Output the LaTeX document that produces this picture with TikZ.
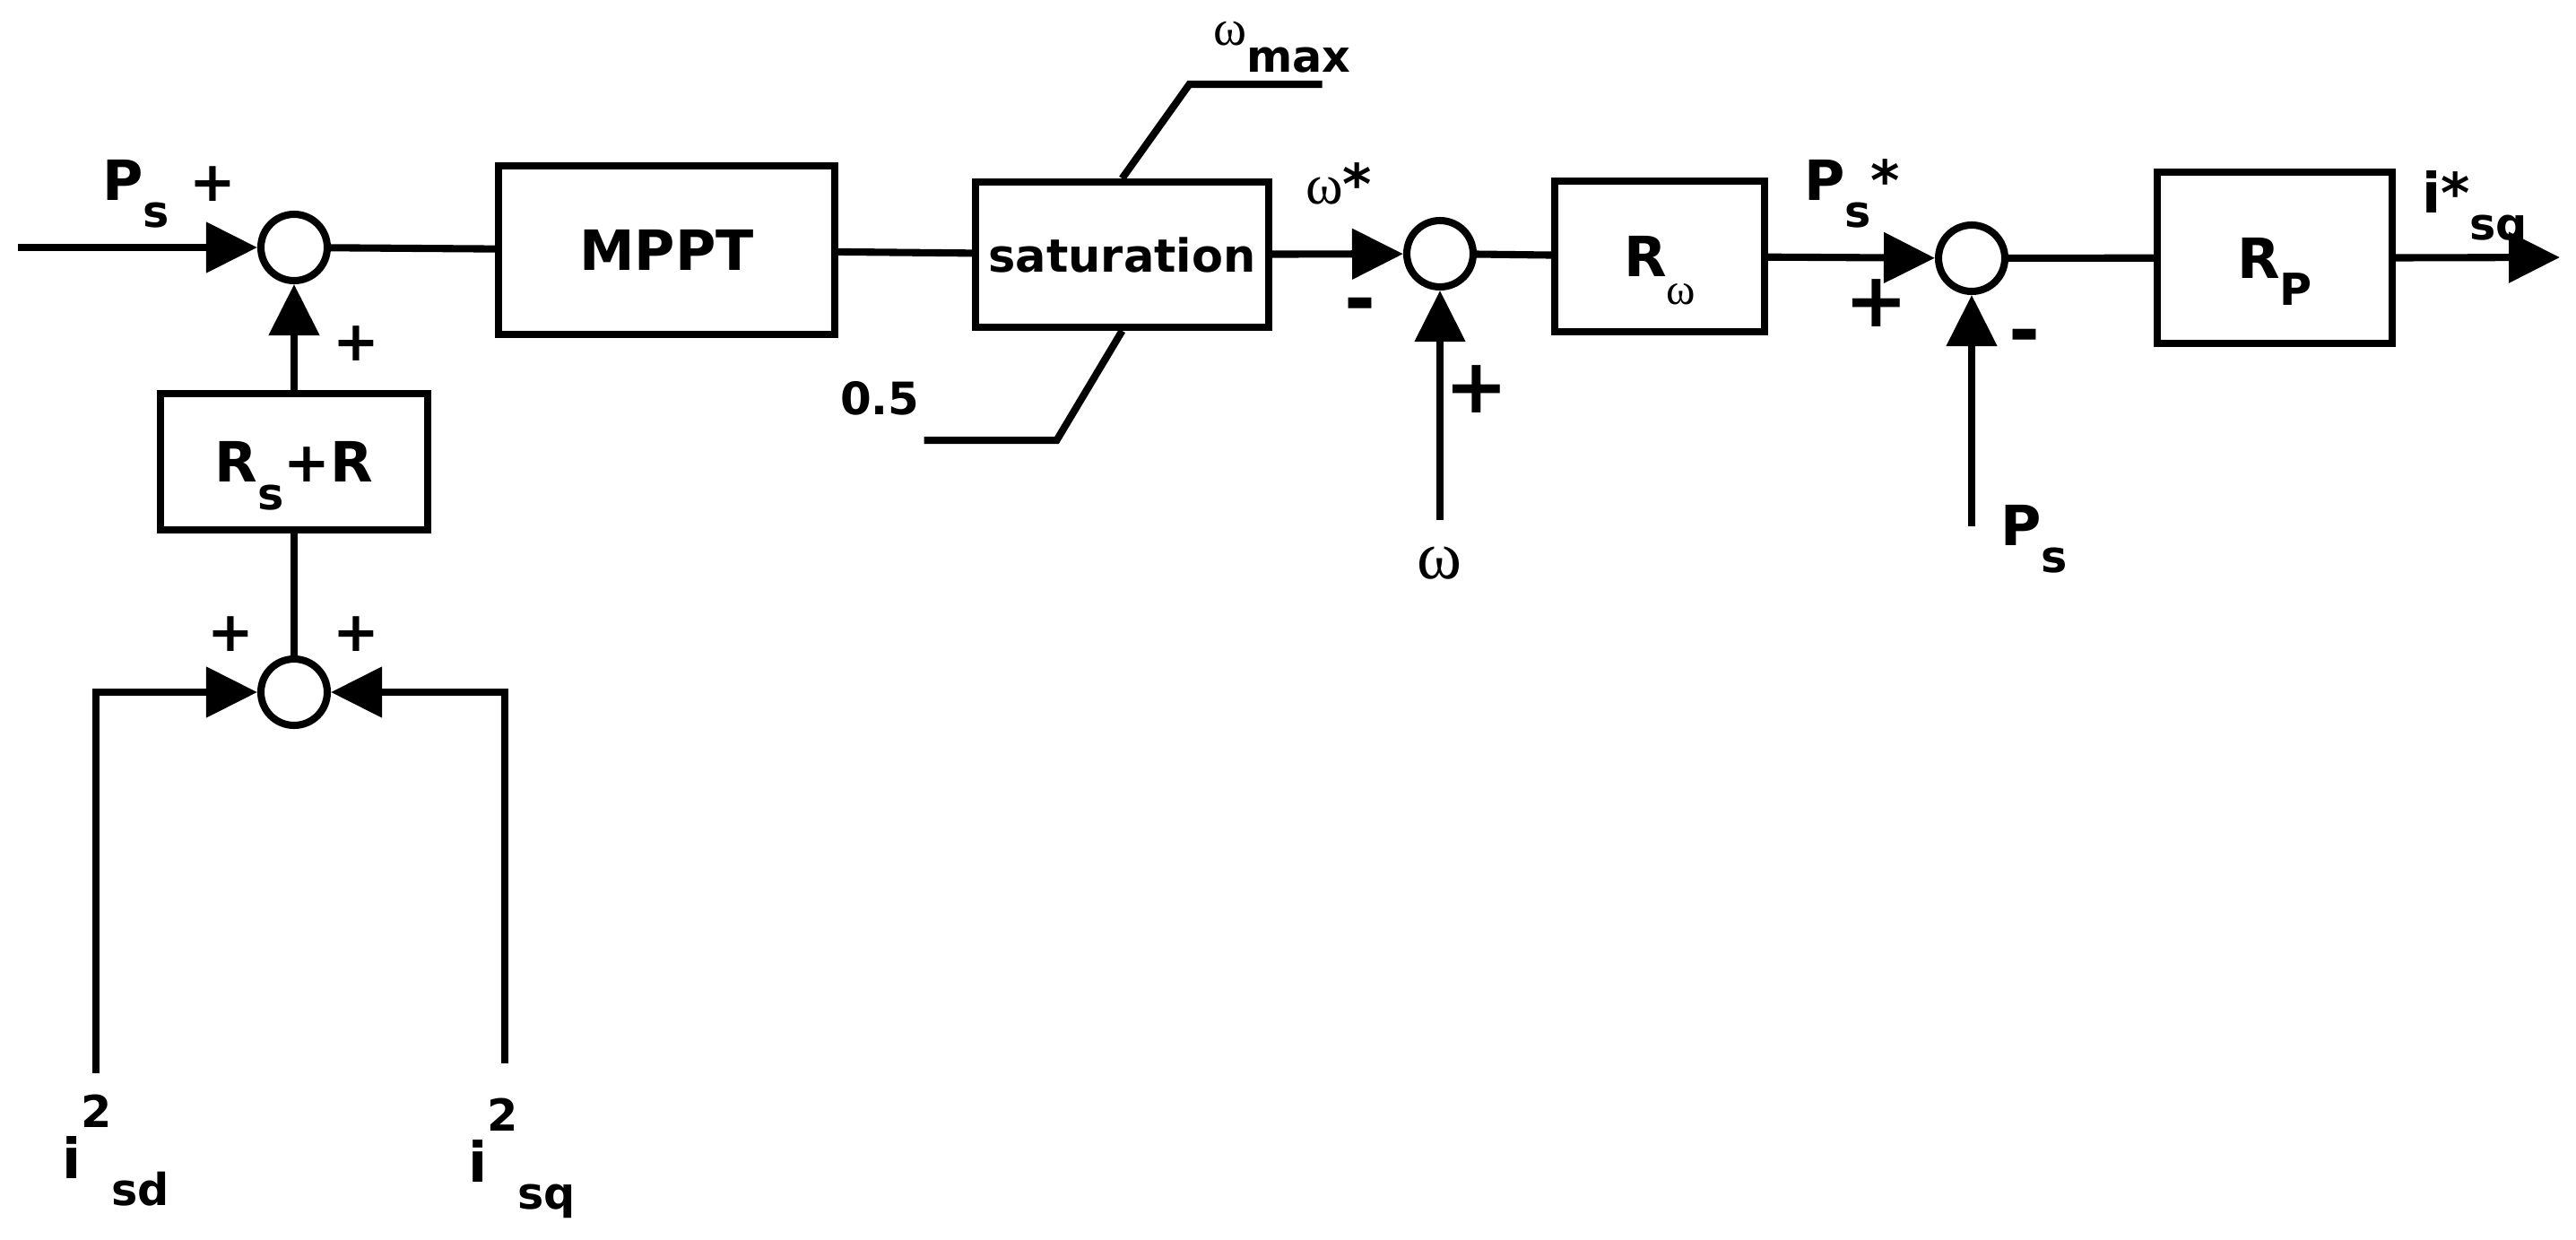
\documentclass[tikz,border=0pt]{standalone}
\usepackage{fontspec}
\setmainfont{DejaVu Sans}
\newfontfamily\omegafont{Liberation Serif}
\usetikzlibrary{arrows.meta}
\newcommand{\subtxt}[1]{\smash{\raisebox{-8.8pt}{\fontsize{14}{14}\selectfont #1}}}
\newcommand{\suptxt}[1]{\smash{\raisebox{16.2pt}{\fontsize{14}{14}\selectfont #1}}}
\newcommand{\om}{{\omegafont\mdseries ω}}

\begin{document}
\begin{tikzpicture}[line width=2.3pt,
  every node/.style={font=\bfseries\fontsize{17.6}{20}\selectfont},
  blk/.style={draw,rectangle,inner sep=0pt},
  sumnode/.style={draw,circle,inner sep=0pt,minimum size=0.74cm},
  lbl/.style={inner sep=0pt,anchor=base west},
  sgn/.style={inner sep=0pt},
  bigsgn/.style={inner sep=0pt,font=\bfseries\fontsize{24}{24}\selectfont},
  sig/.style={-{Triangle[length=0.57cm,width=0.55cm]}}]
\useasboundingbox (0,0) rectangle (28.73,-13.82);

% blocks and summing points
\node[sumnode] (sumP) at (3.28,-2.76) {};
\node[blk,minimum width=3.75cm,minimum height=1.88cm] (mppt) at (7.435,-2.79) {MPPT};
\node[blk,minimum width=3.27cm,minimum height=1.62cm,font=\bfseries\fontsize{14.5}{16}\selectfont] (sat) at (12.515,-2.84) {saturation};
\node[sumnode] (sumW) at (16.06,-2.83) {};
\node[blk,minimum width=2.34cm,minimum height=1.68cm] (rw) at (18.51,-2.86) {R\subtxt{\om}};
\node[sumnode] (sumI) at (21.99,-2.88) {};
\node[blk,minimum width=2.62cm,minimum height=1.91cm] (rp) at (25.37,-2.875) {R\subtxt{P}};
\node[blk,minimum width=2.98cm,minimum height=1.52cm] (rsr) at (3.28,-5.15) {R\subtxt{s}+R};
\node[sumnode] (sumR) at (3.28,-7.72) {};

\coordinate (inP) at (0.20,-2.76);
\coordinate (outI) at (28.55,-2.87);
\coordinate (inW) at (16.06,-5.80);
\coordinate (inPs) at (21.99,-5.87);
\coordinate (inSd) at (1.07,-11.97);
\coordinate (inSq) at (5.63,-11.86);

% signal lines
\draw[sig] (inP) -- (sumP);
\draw (sumP) -- (mppt);
\draw (mppt) -- (sat);
\draw[sig] (sat) -- (sumW);
\draw (sumW) -- (rw);
\draw[sig] (rw) -- (sumI);
\draw (sumI) -- (rp);
\draw[sig] (rp.east) -- (outI);
\draw[sig] (inW) -- (sumW);
\draw[sig] (inPs) -- (sumI);
\draw[sig] (rsr) -- (sumP);
\draw (sumR) -- (rsr);
\draw[sig] (inSd) |- (sumR);
\draw[sig] (inSq) |- (sumR);
% limits of the saturation
\draw (sat.north) -- ++(0.75,1.05) -- ++(1.48,0);
\draw (sat.south) -- ++(-0.73,-1.22) -- ++(-1.48,0);

% labels
\node[lbl] (lPs) at (1.10,-2.23) {P\subtxt{s}};
\node[sgn] (pPs) at (2.37,-2.05) {+};
\node[sgn] (pRs) at (3.97,-3.83) {+};
\node[lbl] (lWmax) at (13.49,-0.50) {{\fontsize{16}{16}\selectfont\om}\subtxt{max}};
\node[lbl] (lWref) at (14.52,-2.27) {{\fontsize{18}{18}\selectfont\om}*};
\node[lbl,font=\bfseries\fontsize{14.2}{16}\selectfont] (lHalf) at (9.33,-4.62) {0.5};
\node[bigsgn] (mW) at (15.17,-3.47) {-};
\node[bigsgn] (pW) at (16.47,-4.34) {+};
\node[inner sep=0pt,anchor=base] (lW) at (16.05,-6.45) {\fontsize{21.6}{22}\selectfont\om};
\node[lbl] (lPref) at (20.08,-2.23) {P\subtxt{s}*};
\node[bigsgn] (pI) at (20.93,-3.38) {+};
\node[bigsgn] (mI) at (22.58,-3.82) {-};
\node[lbl] (lPs2) at (22.27,-6.08) {P\subtxt{s}};
\node[lbl] (lIsq) at (26.97,-2.37) {i*\subtxt{sq}};
\node[sgn] (pSd) at (2.57,-7.07) {+};
\node[sgn] (pSq) at (3.97,-7.07) {+};
\node[lbl] (lSd) at (0.65,-13.14) {i\suptxt{2}\subtxt{sd}};
\node[lbl] (lSq) at (5.18,-13.18) {i\suptxt{2}\subtxt{sq}};

\end{tikzpicture}
\end{document}
